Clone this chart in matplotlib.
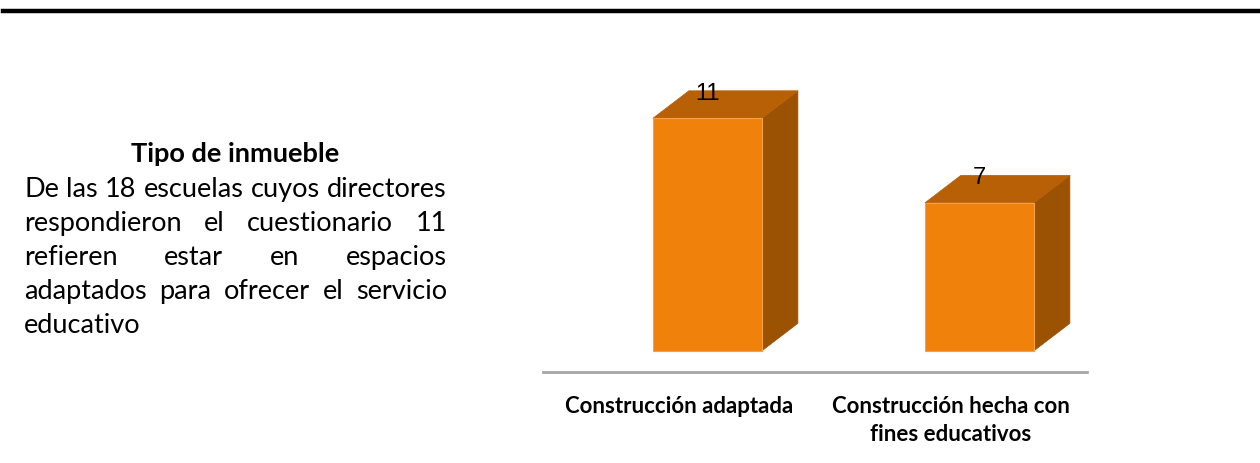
import matplotlib

matplotlib.use('Agg')
import matplotlib.pyplot as plt
from matplotlib.patches import Polygon, Rectangle
from matplotlib.lines import Line2D

# ---- data ----
categories = ['Construcción adaptada', 'Construcción hecha con\nfines educativos']
values = [11, 7]
title = 'Tipo de inmueble'
body_lines = [
    'De las 18 escuelas cuyos directores',
    'respondieron el cuestionario 11',
    'refieren estar en espacios',
    'adaptados para ofrecer el servicio',
    'educativo',
]

W, H = 1260, 464
FONT = 'Lato'

fig = plt.figure(figsize=(W / 100, H / 100), dpi=100)
fig.patch.set_facecolor('white')


def fx(px):
    return px / W


def fy(py):
    return 1 - py / H


# top rule
fig.add_artist(Line2D([fx(3), fx(1260)], [fy(12), fy(12)], color='black', lw=3.2,
                      transform=fig.transFigure))

# ---- left paragraph (justified by hand) ----
renderer = fig.canvas.get_renderer()
x_left, x_right = 24, 447
fs_body = 19.5
fig.text(fx((x_left + x_right) / 2), fy(162), title, ha='center', va='baseline',
         fontsize=fs_body, fontweight='bold', family=FONT)
for i, line in enumerate(body_lines):
    base = fy(197 + 34 * i)
    words = line.split()
    if i == len(body_lines) - 1:
        fig.text(fx(x_left), base, line, ha='left', va='baseline', fontsize=fs_body, family=FONT)
        continue
    txts = [fig.text(0, base, w, ha='left', va='baseline', fontsize=fs_body, family=FONT) for w in words]
    widths = [t.get_window_extent(renderer).width for t in txts]
    gap = (x_right - x_left - sum(widths)) / (len(words) - 1)
    pos = x_left
    for t, w in zip(txts, widths):
        t.set_x(fx(pos))
        pos += w + gap

# ---- 3D-looking bar chart ----
ax_l, ax_r, ax_b, ax_t = 543, 1087, 373, 77
ax = fig.add_axes([fx(ax_l), fy(ax_b), fx(ax_r - ax_l), (ax_b - ax_t) / H])
ax.set_xlim(-0.5, 1.5)
ax.set_ylim(-1, 13)
ax.axis('off')

px_x = (ax_r - ax_l) / 2.0
px_y = (ax_b - ax_t) / 14.0
dx, dy = 36 / px_x, 27.5 / px_y
bar_w = 109 / px_x
shift = -0.096

front_c, top_c, side_c = '#F0810A', '#B86005', '#9B5303'
for i, v in enumerate(values):
    x0 = i + shift
    x1 = x0 + bar_w
    ax.add_patch(Polygon([[x1, 0], [x1 + dx, dy], [x1 + dx, v + dy], [x1, v]],
                         closed=True, facecolor=side_c, edgecolor=side_c, lw=0.5))
    ax.add_patch(Polygon([[x0, v], [x0 + dx, v + dy], [x1 + dx, v + dy], [x1, v]],
                         closed=True, facecolor=top_c, edgecolor=top_c, lw=0.5))
    ax.add_patch(Rectangle((x0, 0), bar_w, v, facecolor=front_c, edgecolor='#F5A04A', lw=0.8))
    ax.text(x0 + bar_w / 2, v + dy - 0.1, str(v), ha='center', va='center',
            fontsize=17, family='Liberation Sans', color='black')

# floor line
ax.plot([-0.5, 1.5], [-1, -1], color='#A6A6A6', lw=2, clip_on=False)

for i, c in enumerate(categories):
    ax.text(i, -2.1, c, ha='center', va='top', fontsize=16, fontweight='bold',
            family=FONT, linespacing=1.38)

fig.savefig('out.png', dpi=100, facecolor='white')
